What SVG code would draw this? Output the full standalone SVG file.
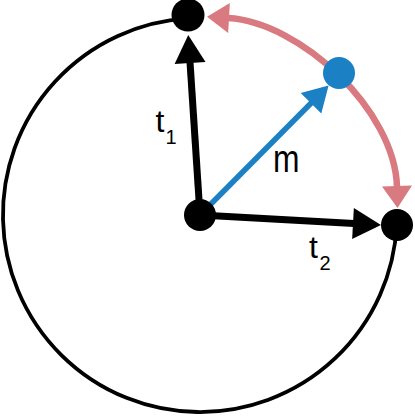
<svg xmlns="http://www.w3.org/2000/svg" width="415" height="416" viewBox="0 0 415 416">
<style>
.lbl{font-family:"Liberation Sans",Arial,sans-serif;fill:#000}
.blk{stroke:#000;stroke-width:7;fill:none}
.blu{stroke:#1b80c4;stroke-width:5.5;fill:none}
.pnk{stroke:#d87a80;stroke-width:6.5;fill:none}
</style>
<defs>
<marker id="ahB" markerUnits="userSpaceOnUse" markerWidth="30" markerHeight="32" refX="1" refY="15.5" orient="auto" overflow="visible"><path d="M0,0 L28,15.5 L0,31 z" fill="#000"/></marker>
<marker id="ahU" markerUnits="userSpaceOnUse" markerWidth="28" markerHeight="30" refX="1" refY="14.5" orient="auto" overflow="visible"><path d="M0,0 L25,14.5 L0,29 z" fill="#1b80c4"/></marker>
<marker id="ahP" markerUnits="userSpaceOnUse" markerWidth="26" markerHeight="32" refX="1" refY="15" orient="auto-start-reverse" overflow="visible"><path d="M0,0 L22,15 L0,30 z" fill="#d87a80"/></marker>
</defs>
<g id="circle">
<path d="M396.7,225 A197,197 0 1 1 188,18.4" fill="none" stroke="#000" stroke-width="3.8"/>
</g>
<g id="connectors">
<line class="blk" x1="200" y1="215" x2="190" y2="62" marker-end="url(#ahB)"/>
<line class="blk" x1="200" y1="215" x2="354" y2="223.5" marker-end="url(#ahB)"/>
<line class="blu" x1="200" y1="215" x2="311.7" y2="102.5" marker-end="url(#ahU)"/>
<path class="pnk" d="M228,18 C300,22 395,110 397,187" marker-start="url(#ahP)" marker-end="url(#ahP)"/>
</g>
<g id="center"><circle cx="200" cy="215" r="16" fill="#000"/></g>
<g id="t1-point"><circle cx="188" cy="15" r="16.5" fill="#000"/></g>
<g id="t2-point"><circle cx="397" cy="225" r="16" fill="#000"/></g>
<g id="m-point"><circle cx="339" cy="73" r="16" fill="#1b80c4"/></g>
<g id="labels">
<text class="lbl" x="155.5" y="131.7" font-size="32">t</text>
<text class="lbl" x="165.5" y="144.3" font-size="20">1</text>
<text class="lbl" x="309" y="258.3" font-size="32">t</text>
<text class="lbl" x="319.5" y="270" font-size="20">2</text>
<text class="lbl" x="273" y="172" font-size="38" textLength="26.5" lengthAdjust="spacingAndGlyphs">m</text>
</g>
</svg>
